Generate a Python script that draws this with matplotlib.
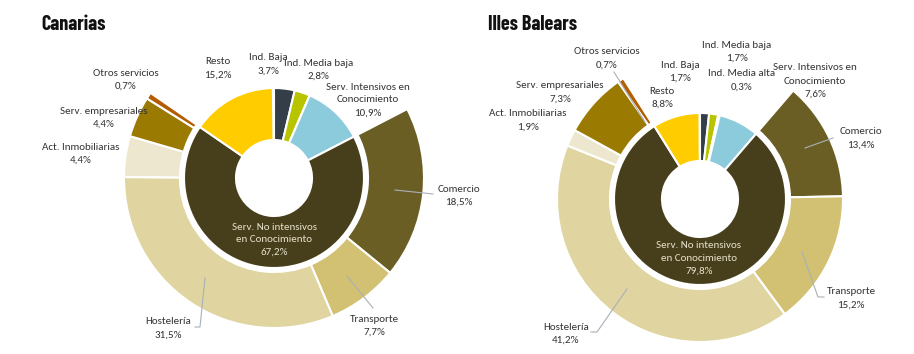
import matplotlib.pyplot as plt
import numpy as np

W, H = 914, 354

# sector shares (%), inner ring
inner_names = ['Ind. Baja', 'Ind. Media baja', 'Ind. Media alta', 'Serv. Intensivos en Conocimiento',
               'Serv. No intensivos en Conocimiento', 'Resto']
can_inner = [3.7, 2.8, 0.0, 10.9, 67.2, 15.2]
bal_inner = [1.7, 1.7, 0.3, 7.6, 79.8, 8.8]

# breakdown of non knowledge-intensive services, outer ring
outer_names = ['Comercio', 'Transporte', 'Hostelería', 'Act. Inmobiliarias',
               'Serv. empresariales', 'Otros servicios']
can_outer = [18.5, 7.7, 31.5, 4.4, 4.4, 0.7]
bal_outer = [13.4, 15.2, 41.2, 1.9, 7.3, 0.7]

inner_colors = ['#343e48', '#b8c400', '#f0f0f0', '#8ccbdc', '#473f1c', '#ffcc00']
outer_colors = ['#6b5e24', '#d3c173', '#e0d5a0', '#eee7cf', '#9a7a00', '#b35c00']

txt = '#333333'
lead = '#a8b0b8'
plt.rcParams['font.family'] = ['Carlito', 'Lato', 'DejaVu Sans']

fig = plt.figure(figsize=(W / 100, H / 100), dpi=100)
ax = fig.add_axes([0, 0, 1, 1])


def P(x, y):
    return x, H - y


def fmt(v):
    return ('%.1f' % v).replace('.', ',') + '%'


def donut(cx, cy, r_out, r_mid, r_hole, inner, outer):
    ax.pie([v / 100 for v in inner], radius=r_mid, center=P(cx, cy), startangle=90,
           counterclock=False, normalize=False, colors=inner_colors,
           wedgeprops=dict(width=r_mid - r_hole, edgecolor='white', linewidth=1.5))
    start = 90 - 3.6 * sum(inner[:4])
    ax.pie([v / 100 for v in outer], radius=r_out, center=P(cx, cy), startangle=start,
           counterclock=False, normalize=False, colors=outer_colors,
           wedgeprops=dict(width=r_out - r_mid - 4, edgecolor='white', linewidth=1.5))


def label(x, y, name, val, color=txt, gap=13):
    lines = name.split('\n') + [fmt(val)]
    for i, s in enumerate(lines):
        ax.text(*P(x, y + i * gap), s, ha='center', va='center', fontsize=7.9, color=color)


def leader(pts):
    xs = [p[0] for p in pts]
    ys = [H - p[1] for p in pts]
    ax.plot(xs, ys, color=lead, lw=0.8)


# Canarias
donut(274, 178, 150, 90, 38, can_inner, can_outer)
label(218, 62, 'Resto', can_inner[5])
label(268, 58, 'Ind. Baja', can_inner[0])
label(319, 63, 'Ind. Media baja', can_inner[1])
label(368, 87, 'Serv. Intensivos en\nConocimiento', can_inner[3])
label(274, 227, 'Serv. No intensivos\nen Conocimiento', can_inner[4], color='#e8e2cc', gap=12.5)
label(459, 189, 'Comercio', can_outer[0])
label(374, 319, 'Transporte', can_outer[1])
label(168, 322, 'Hostelería', can_outer[2])
label(81, 147, 'Act. Inmobiliarias', can_outer[3])
label(104, 111, 'Serv. empresariales', can_outer[4])
label(126, 73, 'Otros servicios', can_outer[5])
leader([(395, 190), (433, 194)])
leader([(347, 276), (373, 308)])
leader([(205, 278), (200, 327), (195, 327)])

# Illes Balears
donut(700, 199, 143, 86, 38, bal_inner, bal_outer)
label(662, 91, 'Resto', bal_inner[5])
label(680, 65, 'Ind. Baja', bal_inner[0])
label(737, 45, 'Ind. Media baja', bal_inner[1])
label(742, 74, 'Ind. Media alta', bal_inner[2])
label(815, 68, 'Serv. Intensivos en\nConocimiento', bal_inner[3])
label(699, 246, 'Serv. No intensivos\nen Conocimiento', bal_inner[4], color='#e8e2cc', gap=12.5)
label(861, 132, 'Comercio', bal_outer[0])
label(851, 292, 'Transporte', bal_outer[1])
label(566, 327, 'Hostelería', bal_outer[2])
label(528, 114, 'Act. Inmobiliarias', bal_outer[3])
label(560, 86, 'Serv. empresariales', bal_outer[4])
label(607, 52, 'Otros servicios', bal_outer[5])
leader([(805, 148), (833, 138)])
leader([(802, 252), (818, 297), (824, 297)])
leader([(627, 289), (597, 332), (591, 332)])
leader([(614, 72), (645, 122)])

ax.text(*P(41, 24), 'Canarias', fontsize=14.5, fontweight='bold', family='Barlow Condensed',
        ha='left', va='center', color='#111111')
ax.text(*P(488, 24), 'Illes Balears', fontsize=14.5, fontweight='bold', family='Barlow Condensed',
        ha='left', va='center', color='#111111')

ax.set_xlim(0, W)
ax.set_ylim(0, H)
ax.set_aspect('auto')
ax.axis('off')
plt.savefig('out.png', dpi=100)
